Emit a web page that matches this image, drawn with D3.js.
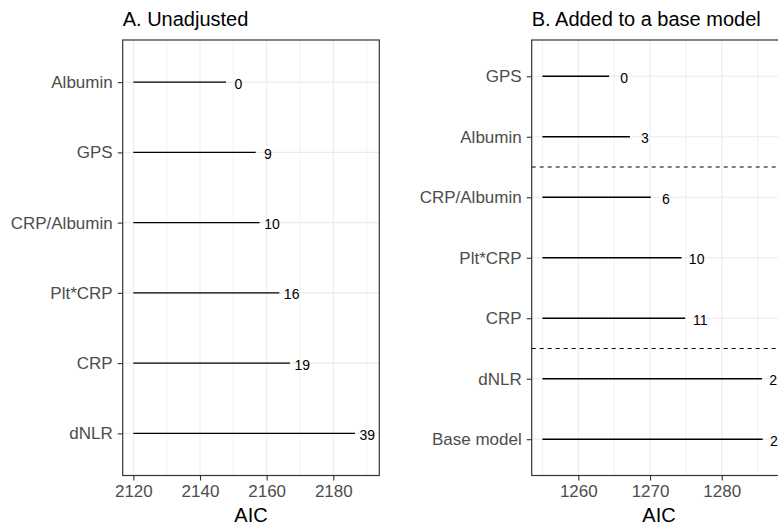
<!DOCTYPE html>
<html>
<head>
<meta charset="utf-8">
<script src="https://cdn.jsdelivr.net/npm/d3@7"></script>
<style>
  body { margin: 0; background: #fff; }
  svg { display: block; overflow: hidden; }
  text { font-family: "Liberation Sans", Arial, sans-serif; }
</style>
</head>
<body>
<svg id="chart" width="778" height="526"></svg>
<script>
// panel A: unadjusted
const leftCategories = ["Albumin", "GPS", "CRP/Albumin", "Plt*CRP", "CRP", "dNLR"];
const leftAIC = [2147.8, 2156.7, 2157.9, 2163.8, 2167.0, 2186.5];
const leftLabels = ["0", "9", "10", "16", "19", "39"];
const leftStart = 2120;
const leftTicks = [2120, 2140, 2160, 2180];

// panel B: added to a base model
const rightCategories = ["GPS", "Albumin", "CRP/Albumin", "Plt*CRP", "CRP", "dNLR", "Base model"];
const rightAIC = [1264.3, 1267.2, 1270.1, 1274.4, 1274.9, 1285.6, 1285.7];
const rightLabels = ["0", "3", "6", "10", "11", "21", "21"];
const rightStart = 1255;
const rightTicks = [1260, 1270, 1280];
const rightDividers = [["Albumin", "CRP/Albumin"], ["CRP", "dNLR"]];

const svg = d3.select("#chart");

function drawPanel(opts) {
  const { left, right, top, bottom, domain, cats, aic, labels, start, ticks, nudge, title, dividers } = opts;

  const x = d3.scaleLinear().domain(domain).range([left, right]);
  const y = d3.scalePoint().domain(cats).range([top, bottom]).padding(0.6);
  const g = svg.append("g");

  // minor grid (halfway between major ticks)
  const step = ticks[1] - ticks[0];
  const minor = d3.range(ticks[0] - step, ticks[ticks.length - 1] + 2 * step, step / 2)
    .filter(v => v > domain[0] && v < domain[1] && !ticks.includes(v));
  g.selectAll(".minor").data(minor).enter().append("line")
    .attr("x1", d => x(d)).attr("x2", d => x(d))
    .attr("y1", top).attr("y2", bottom)
    .attr("stroke", "#ebebeb").attr("stroke-width", 0.7);

  // major grid
  g.selectAll(".vmajor").data(ticks).enter().append("line")
    .attr("x1", d => x(d)).attr("x2", d => x(d))
    .attr("y1", top).attr("y2", bottom)
    .attr("stroke", "#ebebeb").attr("stroke-width", 1.1);
  g.selectAll(".hmajor").data(cats).enter().append("line")
    .attr("x1", left).attr("x2", right)
    .attr("y1", d => y(d)).attr("y2", d => y(d))
    .attr("stroke", "#ebebeb").attr("stroke-width", 1.1);

  // dashed separators
  (dividers || []).forEach(pair => {
    const yy = (y(pair[0]) + y(pair[1])) / 2;
    g.append("line")
      .attr("x1", left).attr("x2", right)
      .attr("y1", yy).attr("y2", yy)
      .attr("stroke", "#000").attr("stroke-width", 1.1)
      .attr("stroke-dasharray", "4,4");
  });

  // segments
  g.selectAll(".seg").data(cats).enter().append("line")
    .attr("x1", x(start))
    .attr("x2", (d, i) => x(aic[i]))
    .attr("y1", d => y(d)).attr("y2", d => y(d))
    .attr("stroke", "#000").attr("stroke-width", 1.4);

  // value labels
  g.selectAll(".val").data(cats).enter().append("text")
    .attr("x", (d, i) => x(aic[i] + nudge))
    .attr("y", d => y(d) + 1.5)
    .attr("dy", "0.35em")
    .attr("text-anchor", "middle")
    .attr("font-size", "14px")
    .attr("fill", "#000")
    .text((d, i) => labels[i]);

  // panel border
  g.append("rect")
    .attr("x", left).attr("y", top)
    .attr("width", right - left).attr("height", bottom - top)
    .attr("fill", "none").attr("stroke", "#333").attr("stroke-width", 1.2);

  // axes
  const xAxis = g.append("g")
    .attr("transform", "translate(0," + bottom + ")")
    .call(d3.axisBottom(x).tickValues(ticks).tickSize(5).tickPadding(4).tickFormat(d3.format("d")));
  xAxis.select(".domain").remove();
  xAxis.selectAll("line").attr("stroke", "#333").attr("stroke-width", 1.1);
  xAxis.selectAll("text").attr("fill", "#4d4d4d").attr("font-size", "17px")
    .attr("font-family", "'Liberation Sans', Arial, sans-serif");

  const yAxis = g.append("g")
    .attr("transform", "translate(" + left + ",0)")
    .call(d3.axisLeft(y).tickSize(5).tickPadding(5));
  yAxis.select(".domain").remove();
  yAxis.selectAll("line").attr("stroke", "#333").attr("stroke-width", 1.1);
  yAxis.selectAll("text").attr("fill", "#4d4d4d").attr("font-size", "17px")
    .attr("font-family", "'Liberation Sans', Arial, sans-serif");

  // title and axis label
  g.append("text")
    .attr("x", left).attr("y", 26)
    .attr("font-size", "20px").attr("fill", "#000")
    .text(title);
  g.append("text")
    .attr("x", (left + right) / 2).attr("y", 522)
    .attr("text-anchor", "middle")
    .attr("font-size", "20px").attr("fill", "#000")
    .text("AIC");
}

drawPanel({
  left: 122.7, right: 379.3, top: 40, bottom: 475.5,
  domain: [2116.8, 2193.8],
  cats: leftCategories, aic: leftAIC, labels: leftLabels,
  start: leftStart, ticks: leftTicks, nudge: 3.7,
  title: "A. Unadjusted"
});

drawPanel({
  left: 531.7, right: 786.3, top: 40, bottom: 475.5,
  domain: [1253.5, 1289.0],
  cats: rightCategories, aic: rightAIC, labels: rightLabels,
  start: rightStart, ticks: rightTicks, nudge: 2.1,
  title: "B. Added to a base model",
  dividers: rightDividers
});
</script>
</body>
</html>
